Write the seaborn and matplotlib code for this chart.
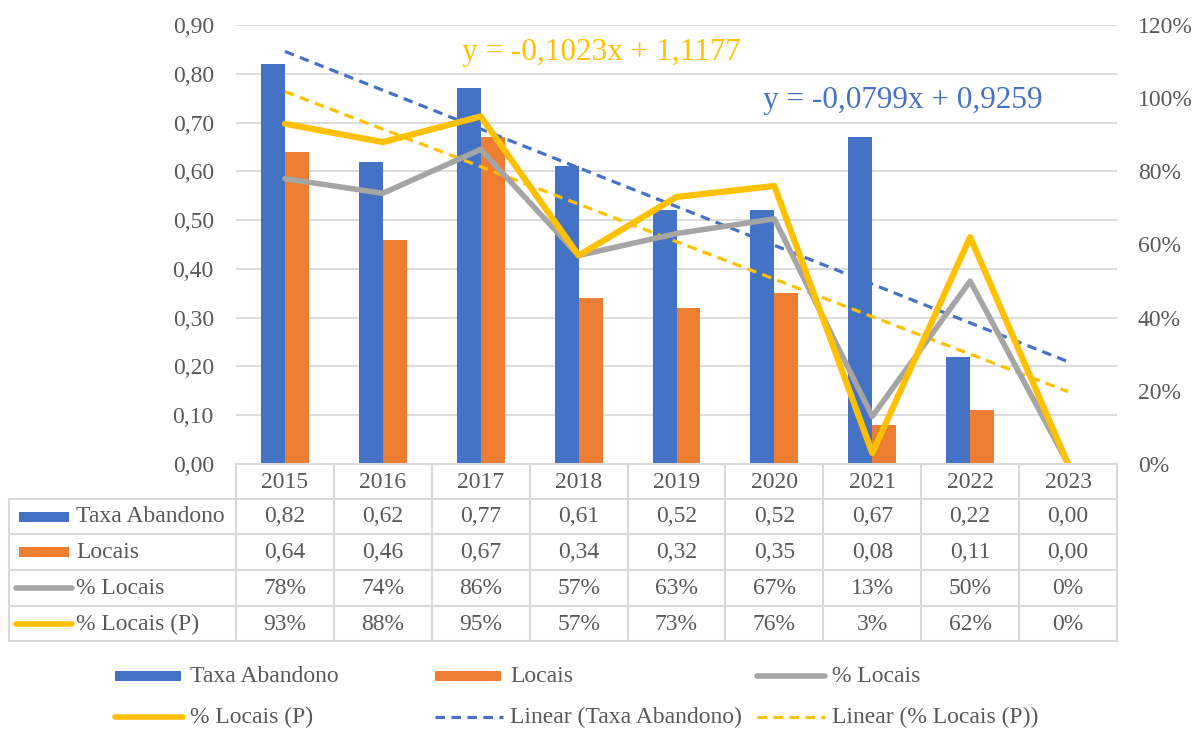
import numpy as np
import pandas as pd
import matplotlib
matplotlib.use('Agg')
import matplotlib.pyplot as plt
import matplotlib.transforms as mtransforms
from matplotlib.lines import Line2D
from matplotlib.patches import Rectangle
import seaborn as sns


anos = ['2015', '2016', '2017', '2018', '2019', '2020', '2021', '2022', '2023']
taxa_abandono = [0.82, 0.62, 0.77, 0.61, 0.52, 0.52, 0.67, 0.22, 0.00]
locais = [0.64, 0.46, 0.67, 0.34, 0.32, 0.35, 0.08, 0.11, 0.00]
pct_locais = [0.78, 0.74, 0.86, 0.57, 0.63, 0.67, 0.13, 0.50, 0.00]
pct_locais_p = [0.93, 0.88, 0.95, 0.57, 0.73, 0.76, 0.03, 0.62, 0.00]
eq_taxa = 'y = -0,0799x + 0,9259'
eq_pct_p = 'y = -0,1023x + 1,1177'

AZUL = '#4472C4'
LARANJA = '#ED7D31'
CINZA = '#A5A5A5'
AMARELO = '#FFC000'
GRADE = '#D9D9D9'
TEXTO = '#595959'
FS = 17

sns.set_style('white')
plt.rcParams['font.family'] = ['Liberation Serif', 'DejaVu Serif']

W, H = 1199, 731
fig = plt.figure(figsize=(W / 100, H / 100), dpi=100)


def fx(px):
    return px / W


def fy(py):
    return 1 - py / H


ax = fig.add_axes([fx(236), fy(464), fx(1117) - fx(236), fy(25) - fy(464)])
ax2 = ax.twinx()

# barras
barras = pd.DataFrame({
    'ano': anos * 2,
    'serie': ['Taxa Abandono'] * len(anos) + ['Locais'] * len(anos),
    'valor': taxa_abandono + locais,
})
sns.barplot(data=barras, x='ano', y='valor', hue='serie',
            palette=[AZUL, LARANJA], width=0.49, saturation=1,
            linewidth=0, legend=False, ax=ax, zorder=2)

pos = np.arange(len(anos))

# linhas de tendência
sns.regplot(x=pos, y=taxa_abandono, scatter=False, ci=None, ax=ax,
            line_kws=dict(color=AZUL, lw=2.3, dashes=(3, 2), zorder=3))
sns.regplot(x=pos, y=pct_locais_p, scatter=False, ci=None, ax=ax2,
            line_kws=dict(color=AMARELO, lw=2.3, dashes=(3, 2), zorder=3))

# linhas (eixo secundário)
sns.lineplot(x=pos, y=pct_locais, color=CINZA, linewidth=4, ax=ax2,
             solid_joinstyle='round', zorder=4)
sns.lineplot(x=pos, y=pct_locais_p, color=AMARELO, linewidth=4.5, ax=ax2,
             solid_joinstyle='round', zorder=5)

ax.set_xlim(-0.5, len(anos) - 0.5)
ax.set_ylim(0, 0.9)
ax2.set_ylim(0, 1.2)

ticks_esq = np.arange(0, 0.91, 0.1)
ax.set_yticks(ticks_esq)
ax.set_yticklabels([f'{v:.2f}'.replace('.', ',') for v in ticks_esq])
ticks_dir = np.arange(0, 1.21, 0.2)
ax2.set_yticks(ticks_dir)
ax2.set_yticklabels([f'{v * 100:.0f}%' for v in ticks_dir])

ax.set_xticks([])
ax.set_xlabel('')
ax.set_ylabel('')
ax2.set_ylabel('')
ax.grid(axis='y', color=GRADE, lw=1.3)
ax2.grid(False)
ax.set_axisbelow(True)
for a in (ax, ax2):
    for s in a.spines.values():
        s.set_visible(False)
ax.tick_params(axis='y', length=0, pad=16, labelsize=FS, labelcolor=TEXTO)
ax2.tick_params(axis='y', length=0, pad=15, labelsize=FS, labelcolor=TEXTO)

# equações das tendências
ax.text(1.81, 0.843, eq_pct_p, color=AMARELO, fontsize=22.5, va='center')
ax.text(4.88, 0.746, eq_taxa, color=AZUL, fontsize=22.5, va='center')

# tabela de dados
tr = mtransforms.blended_transform_factory(ax.transData, fig.transFigure)
linhas_y = [499, 534, 570, 606, 641]
fig.add_artist(Line2D([fx(236), fx(1117)], [fy(464)] * 2, color=GRADE, lw=1.5))
for y in linhas_y:
    fig.add_artist(Line2D([fx(9), fx(1117)], [fy(y)] * 2, color=GRADE, lw=1.5))
fig.add_artist(Line2D([fx(9), fx(9)], [fy(499), fy(641)], color=GRADE, lw=1.5))
for k in range(len(anos) + 1):
    fig.add_artist(Line2D([k - 0.5, k - 0.5], [fy(464), fy(641)],
                          transform=tr, color=GRADE, lw=1.5))

centros = [517, 552, 588, 624]
linhas_tabela = [
    ('Taxa Abandono', 'barra', AZUL, [f'{v:.2f}'.replace('.', ',') for v in taxa_abandono]),
    ('Locais', 'barra', LARANJA, [f'{v:.2f}'.replace('.', ',') for v in locais]),
    ('% Locais', 'linha', CINZA, [f'{v * 100:.0f}%' for v in pct_locais]),
    ('% Locais (P)', 'linha', AMARELO, [f'{v * 100:.0f}%' for v in pct_locais_p]),
]
for i, ano in enumerate(anos):
    fig.text(i, fy(482), ano, transform=tr, ha='center', va='center',
             fontsize=FS, color=TEXTO)


def chave(x, y, tipo, cor):
    if tipo == 'barra':
        fig.add_artist(Rectangle((fx(x + 3), fy(y + 5)), fx(50), 10 / H,
                                 color=cor, lw=0))
    elif tipo == 'linha':
        fig.add_artist(Line2D([fx(x), fx(x + 56)], [fy(y)] * 2, color=cor, lw=4,
                              solid_capstyle='round'))
    else:
        fig.add_artist(Line2D([fx(x), fx(x + 56)], [fy(y)] * 2, color=cor, lw=2.3,
                              dashes=(3, 2)))


for (nome, tipo, cor, valores), yc in zip(linhas_tabela, centros):
    chave(16, yc, tipo, cor)
    fig.text(fx(76), fy(yc), nome, ha='left', va='center', fontsize=FS, color=TEXTO)
    for i, txt in enumerate(valores):
        fig.text(i, fy(yc), txt, transform=tr, ha='center', va='center',
                 fontsize=FS, color=TEXTO)

# legenda
legenda = [
    (115, 676, 'barra', AZUL, 'Taxa Abandono'),
    (435, 676, 'barra', LARANJA, 'Locais'),
    (757, 676, 'linha', CINZA, '% Locais'),
    (115, 717, 'linha', AMARELO, '% Locais (P)'),
    (435, 717, 'tracejado', AZUL, 'Linear (Taxa Abandono)'),
    (757, 717, 'tracejado', AMARELO, 'Linear (% Locais (P))'),
]
for x, y, tipo, cor, nome in legenda:
    if tipo == 'barra':
        fig.add_artist(Rectangle((fx(x), fy(y + 5)), fx(66), 10 / H, color=cor, lw=0))
    else:
        fig.add_artist(Line2D([fx(x), fx(x + 68)], [fy(y)] * 2, color=cor,
                              lw=4 if tipo == 'linha' else 2.3,
                              dashes=(None, None) if tipo == 'linha' else (3, 2)))
    fig.text(fx(x + 75), fy(y), nome, ha='left', va='center', fontsize=FS, color=TEXTO)

fig.savefig('out.png', dpi=100)
